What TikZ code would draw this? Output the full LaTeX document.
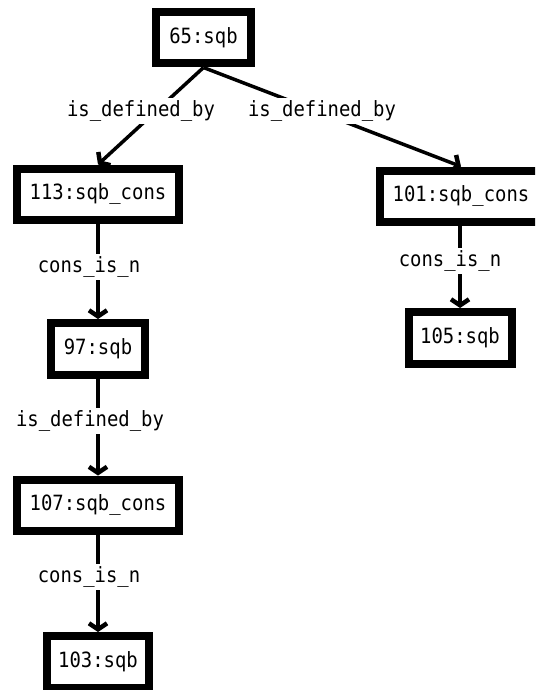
\documentclass[tikz,border=0pt]{standalone}
\usepackage{fontspec}
\newfontfamily\gvmono[FakeStretch=0.9]{DejaVu Sans Mono}
\usetikzlibrary{arrows.meta}
\begin{document}
\begin{tikzpicture}[x=1pt,y=-1pt,
  box/.style={draw, line width=8pt, fill=white, inner sep=0pt,
    minimum height=51pt, font=\gvmono\fontsize{21}{24}\selectfont},
  lbl/.style={fill=white, inner sep=3pt, font=\gvmono\fontsize{21}{24}\selectfont},
  edge/.style={line width=3.5pt,
    -{Straight Barb[length=6pt,width=18pt,line width=4.5pt]}}]
\useasboundingbox (0,0) rectangle (535,690);
\clip (0,0) rectangle (535,690);
% boxes
\node[box, minimum width=95pt]  (n65)  at (203.5,38)  {65:sqb};
\node[box, minimum width=162pt] (n113) at (98,194)    {113:sqb\_cons};
\node[box, minimum width=94pt, minimum height=52pt]  (n97)  at (98,349)  {97:sqb};
\node[box, minimum width=162pt] (n107) at (98,505)    {107:sqb\_cons};
\node[box, minimum width=102pt, minimum height=52pt] (n103) at (98,662)  {103:sqb};
\node[box, minimum width=162pt] (n101) at (461,196)   {101:sqb\_cons};
\node[box, minimum width=103pt, minimum height=52pt] (n105) at (460,338) {105:sqb};
% edges
\draw[edge] (n65.south) -- (n113.north);
\draw[edge] (n65.south) -- (n101.north);
\draw[edge] (n113) -- (n97);
\draw[edge] (n97) -- (n107);
\draw[edge] (n107) -- (n103);
\draw[edge] (n105.north |- n101.south) -- (n105.north);
% labels
\node[lbl] (l1) at (141,111) {is\_defined\_by};
\node[lbl] (l2) at (322,111) {is\_defined\_by};
\node[lbl] (l3) at (89,267)  {cons\_is\_n};
\node[lbl] (l4) at (450,261) {cons\_is\_n};
\node[lbl] (l5) at (90,421)  {is\_defined\_by};
\node[lbl] (l6) at (89,577)  {cons\_is\_n};
\end{tikzpicture}
\end{document}
